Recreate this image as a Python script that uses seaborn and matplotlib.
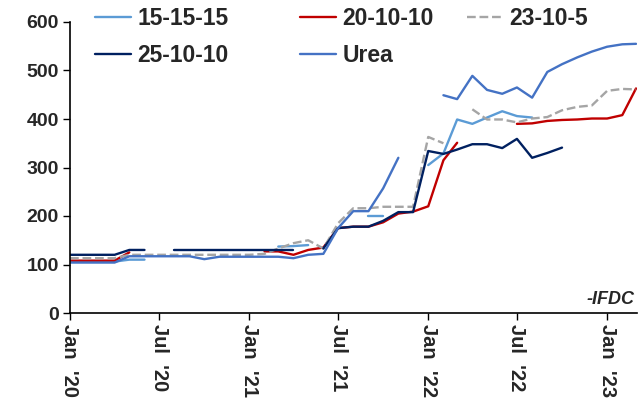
import numpy as np
import pandas as pd
import matplotlib
matplotlib.use("Agg")
import matplotlib.pyplot as plt
import matplotlib.dates as mdates
from matplotlib.lines import Line2D
import seaborn as sns

nan = np.nan
dates = pd.date_range("2020-01-01", "2023-03-01", freq="MS")

s_15_15_15 = [106, 106, 106, 106, 110, 110, nan, nan, nan, nan, nan, nan, nan, nan,
              137, 138, 140, nan, nan, nan, 200, 200, nan, nan,
              305, 329, 399, 390, 403, 416, 406, 403, nan, nan, nan, nan, nan, nan, nan]
s_20_10_10 = [108, 108, 108, 108, 125, nan, nan, nan, nan, nan, nan, nan, nan,
              127, 127, 120, 130, 135, 175, 178, 178, 187, 205, 209,
              220, 315, 351, nan, nan, nan, 390, 391, 396, 398, 399, 401, 401, 408, 463]
s_23_10_5 = [113, 113, 113, 113, 120, 120, 120, 120, 120, 120, 120, 120, 120,
             122, 133, 144, 150, 133, 185, 216, 216, 219, 219, 219,
             363, 350, nan, 420, 399, 399, 393, 401, 404, 418, 425, 428, 458, 462, 461]
s_25_10_10 = [120, 120, 120, 120, 130, 130, nan, 130, 130, 130, 130, 130, 130,
              130, 130, 130, nan, 133, 175, 178, 178, 190, 208, 208,
              334, 328, 337, 348, 348, 340, 359, 320, 330, 341, nan, nan, nan, nan, nan]
s_urea = [104, 104, 104, 104, 117, 117, 117, 117, 117, 111, 116, 116, 116,
          116, 116, 113, 120, 122, 175, 210, 210, 257, 320, nan,
          nan, 449, 441, 489, 460, 452, 465, 444, 497, 513, 527, 539, 549, 554, 555]

series_names = ["15-15-15", "20-10-10", "23-10-5", "25-10-10", "Urea"]
series_values = [s_15_15_15, s_20_10_10, s_23_10_5, s_25_10_10, s_urea]
colors = ["#5B9BD5", "#C00000", "#A5A5A5", "#002060", "#4472C4"]
styles = ["-", "-", "--", "-", "-"]

sns.set_style("white")
plt.rcParams["font.family"] = ["Liberation Sans", "DejaVu Sans"]

W, H = 643, 403
fig = plt.figure(figsize=(W / 100, H / 100), dpi=100)
ax = fig.add_axes([70 / W, 1 - 313 / H, (637 - 70) / W, (313 - 22) / H])

handles = {}
for name, vals, col, ls in zip(series_names, series_values, colors, styles):
    v = np.array(vals, dtype=float)
    valid = ~np.isnan(v)
    seg = np.cumsum(np.r_[True, valid[1:] != valid[:-1]])
    df = pd.DataFrame({"date": dates, "value": v, "seg": seg})[valid]
    for _, g in df.groupby("seg"):
        sns.lineplot(data=g, x="date", y="value", ax=ax, color=col,
                     linestyle=ls, linewidth=1.7, legend=False)
    handles[name] = Line2D([0], [0], color=col, linestyle=ls, linewidth=1.7, label=name)

ax.set_ylim(0, 600)
ax.set_yticks(range(0, 601, 100))
ax.set_xlim(pd.Timestamp("2020-01-01"), pd.Timestamp("2023-03-03"))
ax.xaxis.set_major_locator(mdates.MonthLocator(bymonth=[1, 7]))
ax.xaxis.set_major_formatter(mdates.DateFormatter("%b  '%y"))
ax.set_xlabel("")
ax.set_ylabel("")
for lab in ax.get_yticklabels():
    lab.set_fontweight("bold")
    lab.set_fontsize(14)
for lab in ax.get_xticklabels():
    lab.set_fontweight("bold")
    lab.set_fontsize(14.5)
    lab.set_rotation(270)
    lab.set_va("top")
    lab.set_ha("center")
ax.tick_params(axis="both", direction="out", length=5, width=1, color="black",
               left=True, bottom=True, pad=3)
for side in ["top", "right"]:
    ax.spines[side].set_visible(False)
for side in ["left", "bottom"]:
    ax.spines[side].set_color("black")
    ax.spines[side].set_linewidth(1.2)

legend_cols = [(["15-15-15", "25-10-10"], 95), (["20-10-10", "Urea"], 300), (["23-10-5"], 467)]
for names, xpix in legend_cols:
    leg = fig.legend(handles=[handles[n] for n in names], loc="upper left",
                     bbox_to_anchor=(xpix / W, 1 - 7 / H), frameon=False,
                     prop={"weight": "bold", "size": 16.5}, handlelength=1.55,
                     handletextpad=0.3, labelspacing=0.62, borderpad=0, borderaxespad=0)

ax.text(0.995, 27, "-IFDC", transform=ax.get_yaxis_transform(), ha="right", va="center",
        fontsize=13, fontweight="bold", fontstyle="italic")

fig.savefig("out.png", dpi=100)
